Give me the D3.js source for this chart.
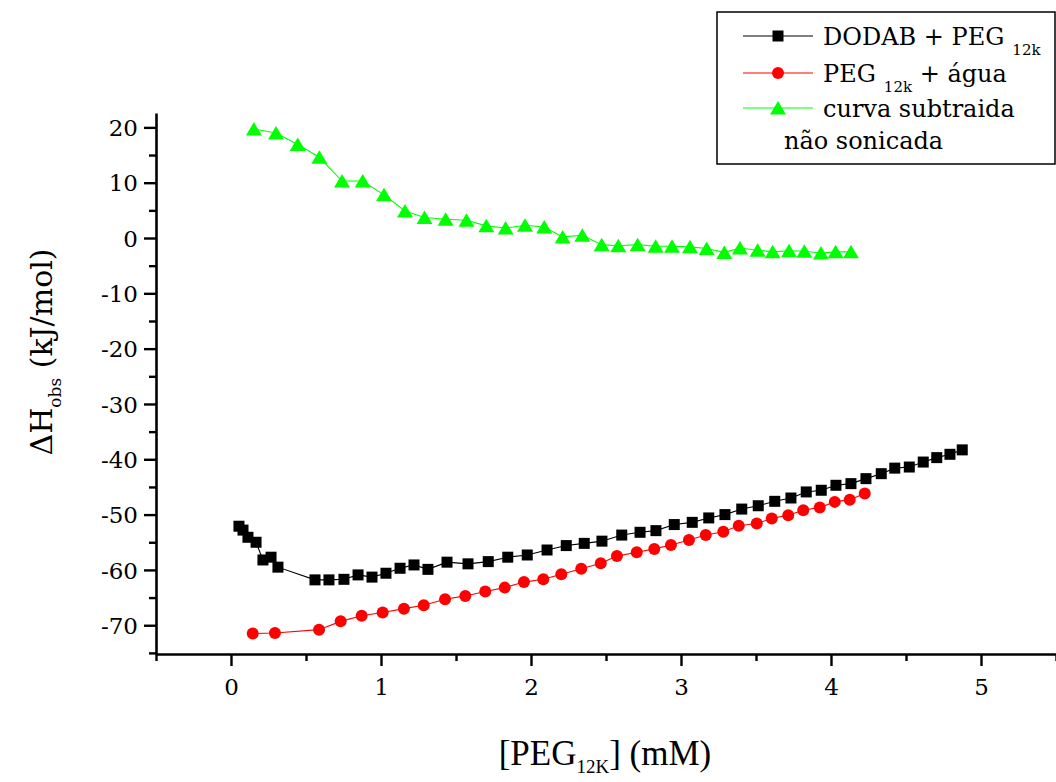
<!DOCTYPE html>
<html><head><meta charset="utf-8">
<script src="https://cdn.jsdelivr.net/npm/d3@7"></script>
<style>body{margin:0;background:#fff} svg{display:block}</style>
</head><body><svg id="c" width="1056" height="782"></svg>
<script>
// DODAB + PEG12k (black squares)
const dodabX = [0.053,0.08,0.113,0.167,0.213,0.267,0.313,0.56,0.653,0.753,0.847,0.94,1.033,1.127,1.22,1.313,1.44,1.58,1.715,1.845,1.975,2.107,2.235,2.355,2.473,2.605,2.727,2.833,2.955,3.075,3.185,3.293,3.405,3.515,3.625,3.733,3.835,3.935,4.033,4.133,4.233,4.335,4.425,4.522,4.615,4.705,4.793,4.875];
const dodabY = [-52.1,-52.8,-54.1,-55.0,-58.2,-57.7,-59.5,-61.8,-61.8,-61.7,-60.9,-61.3,-60.6,-59.7,-59.1,-59.9,-58.6,-58.9,-58.5,-57.7,-57.3,-56.4,-55.6,-55.2,-54.8,-53.7,-53.2,-52.9,-51.8,-51.4,-50.6,-50.0,-49.0,-48.4,-47.6,-47.0,-45.9,-45.6,-44.7,-44.4,-43.5,-42.6,-41.6,-41.4,-40.5,-39.7,-39.1,-38.3];
// PEG12k + água (red circles)
const pegX = [0.145,0.293,0.587,0.731,0.871,1.011,1.153,1.285,1.427,1.562,1.695,1.825,1.953,2.082,2.202,2.335,2.465,2.573,2.705,2.822,2.933,3.053,3.165,3.282,3.385,3.505,3.605,3.715,3.815,3.925,4.025,4.125,4.225];
const pegY = [-71.5,-71.4,-70.8,-69.3,-68.3,-67.7,-67.0,-66.4,-65.3,-64.7,-63.9,-63.2,-62.2,-61.7,-60.8,-59.8,-58.8,-57.5,-56.8,-56.2,-55.5,-54.6,-53.7,-53.1,-52.0,-51.6,-50.7,-50.1,-49.2,-48.7,-47.7,-47.3,-46.2];
// curva subtraida (green triangles)
const subX = [0.153,0.30,0.445,0.589,0.74,0.878,1.02,1.16,1.29,1.431,1.57,1.702,1.831,1.96,2.088,2.211,2.342,2.471,2.582,2.711,2.831,2.94,3.06,3.171,3.289,3.393,3.511,3.611,3.72,3.822,3.933,4.031,4.133];
const subY = [19.7,19.0,16.9,14.6,10.3,10.3,7.8,4.9,3.7,3.4,3.2,2.2,1.8,2.3,2.0,0.2,0.5,-1.2,-1.4,-1.2,-1.5,-1.5,-1.6,-1.9,-2.6,-1.8,-2.2,-2.5,-2.3,-2.4,-2.7,-2.5,-2.5];

const xTicks = [0,1,2,3,4,5];
const xMinor = [-0.5,0.5,1.5,2.5,3.5,4.5,5.5];
const yTicks = [20,10,0,-10,-20,-30,-40,-50,-60,-70];
const yMinor = [15,5,-5,-15,-25,-35,-45,-55,-65,-75];

const svg = d3.select("#c");
const x = d3.scaleLinear().domain([-0.5,5.5]).range([156,1056]);
const y = d3.scaleLinear().domain([-75.2,22.6]).range([654,113]);
const FONT = "'DejaVu Serif', serif";

// axes
const xAxisMajor = d3.axisBottom(x).tickValues(xTicks).tickSize(12).tickFormat(d3.format("d"));
const xAxisMinor = d3.axisBottom(x).tickValues(xMinor).tickSize(7).tickFormat("");
const yAxisMajor = d3.axisLeft(y).tickValues(yTicks).tickSize(12).tickFormat(d=>String(d));
const yAxisMinor = d3.axisLeft(y).tickValues(yMinor).tickSize(7).tickFormat("");

function styleAxis(g){
  g.select(".domain").attr("stroke","#000").attr("stroke-width",2.6);
  g.selectAll(".tick line").attr("stroke","#000").attr("stroke-width",2.4);
  g.selectAll(".tick text").attr("font-family",FONT).attr("font-size",23).attr("fill","#000");
}
const gxm = svg.append("g").attr("transform","translate(0,654)").call(xAxisMinor);
gxm.select(".domain").remove();
gxm.selectAll(".tick line").attr("stroke","#000").attr("stroke-width",2.4);
const gx = svg.append("g").attr("transform","translate(0,654)").call(xAxisMajor.tickSizeOuter(0));
styleAxis(gx);
gx.selectAll(".tick text").attr("dy","0").attr("y",41);
const gym = svg.append("g").attr("transform","translate(156,0)").call(yAxisMinor);
gym.select(".domain").remove();
gym.selectAll(".tick line").attr("stroke","#000").attr("stroke-width",2.4);
const gy = svg.append("g").attr("transform","translate(156,0)").call(yAxisMajor.tickSizeOuter(0));
styleAxis(gy);
gy.selectAll(".tick text").attr("x",-18).attr("dy","0.36em");

// series
const series = [
  {xs:dodabX, ys:dodabY, color:"#000000", shape:"square"},
  {xs:pegX, ys:pegY, color:"#ff0000", shape:"circle"},
  {xs:subX, ys:subY, color:"#00ff00", shape:"triangle"}
];
const line = d3.line().x(d=>x(d[0])).y(d=>y(d[1]));
function marker(g, shape, color, cx, cy){
  if(shape==="square") g.append("rect").attr("x",cx-5.5).attr("y",cy-5.5).attr("width",11).attr("height",11).attr("fill",color);
  else if(shape==="circle") g.append("circle").attr("cx",cx).attr("cy",cy).attr("r",6).attr("fill",color);
  else g.append("path").attr("d",`M${cx},${cy-7}L${cx+8},${cy+6.5}L${cx-8},${cy+6.5}Z`).attr("fill",color);
}
series.forEach(s=>{
  const pts = s.xs.map((v,i)=>[v,s.ys[i]]);
  svg.append("path").datum(pts).attr("d",line).attr("fill","none").attr("stroke",s.color).attr("stroke-width",1.1);
  const g = svg.append("g");
  pts.forEach(p=>marker(g,s.shape,s.color,x(p[0]),y(p[1])));
});

// axis titles
const xt = svg.append("text").attr("x",605).attr("y",765).attr("text-anchor","middle")
  .attr("font-family","'Liberation Serif', serif").attr("font-size",35).attr("fill","#000");
xt.append("tspan").text("[PEG");
xt.append("tspan").attr("font-size",19).attr("dy",8).text("12K");
xt.append("tspan").attr("dy",-8).text("] (mM)");

const yt = svg.append("text").attr("transform","translate(52,352) rotate(-90)").attr("text-anchor","middle")
  .attr("font-family",FONT).attr("font-size",30).attr("fill","#000");
yt.append("tspan").text("\u0394H");
yt.append("tspan").attr("font-size",17).attr("dy",9).text("obs");
yt.append("tspan").attr("dy",-9).text(" (kJ/mol)");

// legend
const lg = svg.append("g");
lg.append("rect").attr("x",717).attr("y",12).attr("width",338).attr("height",152).attr("fill","#fff").attr("stroke","#000").attr("stroke-width",1.5);
const legRows = [
  {y:36, color:"#000", shape:"square", main:"DODAB + PEG", sub:"12k", rest:""},
  {y:73, color:"#ff0000", shape:"circle", main:"PEG", sub:"12k", rest:" + água"},
  {y:108, color:"#00ff00", shape:"triangle", main:"curva subtraida", sub:"", rest:""}
];
legRows.forEach(r=>{
  lg.append("line").attr("x1",743).attr("x2",813).attr("y1",r.y).attr("y2",r.y).attr("stroke",r.color).attr("stroke-width",1.2);
  marker(lg, r.shape, r.color, 778, r.y);
  const t = lg.append("text").attr("x",823).attr("y",r.y+9).attr("font-family",FONT).attr("font-size",24).attr("fill","#000");
  t.append("tspan").text(r.main);
  if(r.sub){ t.append("tspan").attr("font-size",15).attr("dx",8).attr("dy",10).text(r.sub);
    if(r.rest) t.append("tspan").attr("font-size",24).attr("dy",-10).text(r.rest); }
});
lg.append("text").attr("x",784).attr("y",149).attr("font-family",FONT).attr("font-size",24).attr("fill","#000").text("não sonicada");
</script>
</body></html>
